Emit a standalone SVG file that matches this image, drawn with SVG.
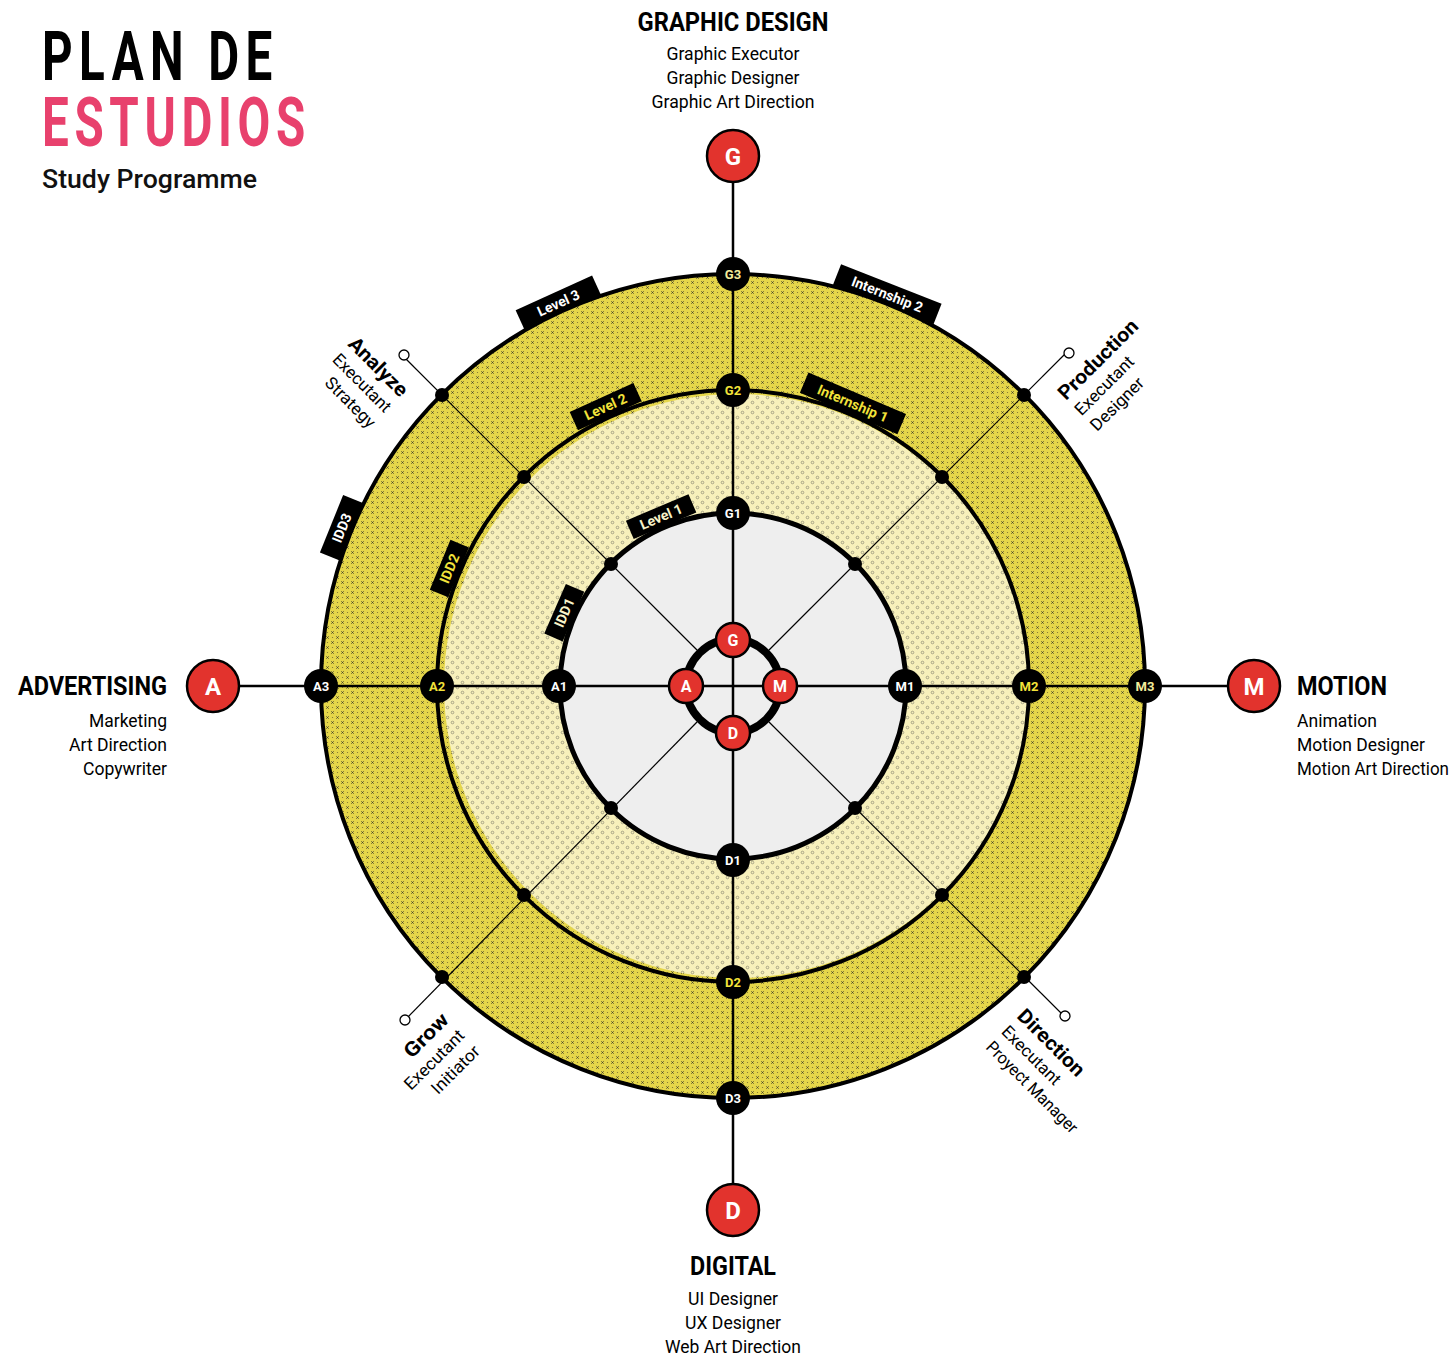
<svg xmlns="http://www.w3.org/2000/svg" width="1455" height="1358" viewBox="0 0 1455 1358">
<defs>
<pattern id="px" width="10" height="10" patternUnits="userSpaceOnUse">
<rect width="10" height="10" fill="#e5d64a"/>
<path d="M1.3 1.3L3.7 3.7M3.7 1.3L1.3 3.7M6.3 6.3L8.7 8.7M8.7 6.3L6.3 8.7" stroke="#3a3a2a" stroke-width="0.8"/>
<circle cx="7.5" cy="2.5" r="0.6" fill="#7a7030"/>
<circle cx="2.5" cy="7.5" r="0.6" fill="#7a7030"/>
</pattern>
<pattern id="po" width="10" height="10" patternUnits="userSpaceOnUse">
<rect width="10" height="10" fill="#f7f0bb"/>
<circle cx="2.5" cy="2.5" r="1.3" fill="none" stroke="#8a8670" stroke-width="0.7"/>
<circle cx="7.5" cy="7.5" r="1.3" fill="none" stroke="#8a8670" stroke-width="0.7"/>
</pattern>
<style>
.t{font-family:Roboto,"Liberation Sans",sans-serif;}
.b{font-family:Roboto,"Liberation Sans",sans-serif;font-weight:bold;}
.ax{stroke:#000;stroke-width:2.5;fill:none}
.dg{stroke:#000;stroke-width:1.2;fill:none}
.nd{fill:#000}
.nl{font-family:Roboto,"Liberation Sans",sans-serif;font-weight:bold;font-size:13px;text-anchor:middle}
.red{fill:#e2332d;stroke:#000;stroke-width:2.5}
.tab{fill:#000}
.tl{font-family:Roboto,"Liberation Sans",sans-serif;font-weight:bold;font-size:14px;text-anchor:middle}
.sub{font-family:Roboto,"Liberation Sans",sans-serif;font-size:19px}
.hd{font-family:Roboto,"Liberation Sans",sans-serif;font-weight:bold;font-size:25px}
.dl{font-family:Roboto,"Liberation Sans",sans-serif;font-size:17px}
.dh{font-family:Roboto,"Liberation Sans",sans-serif;font-weight:bold;font-size:20px}
</style>
</defs>
<rect width="1455" height="1358" fill="#fff"/>

<g id="title">
<text class="t" transform="translate(42,80) scale(0.7,1)" x="0" y="0" font-size="68" font-weight="bold" textLength="329" lengthAdjust="spacing" fill="#000">PLAN DE</text>
<text class="t" transform="translate(42,146) scale(0.7,1)" x="0" y="0" font-size="68" font-weight="bold" textLength="376" lengthAdjust="spacing" fill="#e8416d">ESTUDIOS</text>
<text class="t" x="42" y="188" font-size="25" font-weight="500" textLength="215" lengthAdjust="spacingAndGlyphs" fill="#111">Study Programme</text>
</g>

<g id="tabs-outer">
<g transform="translate(733,686) rotate(-24.5) translate(0,-421)"><rect class="tab" x="-42" y="-11" width="84" height="22"/></g>
<g transform="translate(733,686) rotate(21.5) translate(0,-421)"><rect class="tab" x="-54" y="-11" width="108" height="22"/></g>
<g transform="translate(733,686) rotate(-68) translate(0,-422)"><rect class="tab" x="-31" y="-11" width="62" height="22"/></g>
</g>
<circle id="ring-outer" cx="733" cy="686" r="412" fill="url(#px)"/>
<g id="tabs-middle">
<g transform="translate(733,686) rotate(-24.5) translate(0,-307)"><rect class="tab" x="-35" y="-10" width="70" height="20"/></g>
<g transform="translate(733,686) rotate(23) translate(0,-307)"><rect class="tab" x="-53" y="-11" width="106" height="22"/></g>
<g transform="translate(733,686) rotate(-67.5) translate(0,-307)"><rect class="tab" x="-27" y="-10" width="54" height="20"/></g>
</g>
<circle id="ring-middle" cx="736" cy="686" r="292" fill="url(#po)"/>
<g id="tabs-inner">
<g transform="translate(733,686) rotate(-23) translate(0,-184)"><rect class="tab" x="-34" y="-10" width="68" height="20"/></g>
<g transform="translate(733,686) rotate(-66.5) translate(0,-184)"><rect class="tab" x="-27" y="-10" width="54" height="20"/></g>
</g>
<circle id="ring-inner" cx="733" cy="686" r="173" fill="#eeeeee"/>

<g id="connectors">
<line class="ax" x1="733" y1="156" x2="733" y2="1210"/>
<line class="ax" x1="213" y1="686" x2="1254" y2="686"/>
<line class="dg" x1="697" y1="650" x2="404" y2="357"/>
<line class="dg" x1="769" y1="650" x2="1065" y2="354"/>
<line class="dg" x1="697" y1="722" x2="405" y2="1020"/>
<line class="dg" x1="769" y1="722" x2="1064" y2="1016"/>
<circle cx="733" cy="686" r="412" fill="none" stroke="#000" stroke-width="4"/>
<circle cx="733" cy="686" r="296" fill="none" stroke="#000" stroke-width="4"/>
<circle cx="733" cy="686" r="173" fill="none" stroke="#000" stroke-width="5"/>
<circle cx="733" cy="686" r="47" fill="none" stroke="#000" stroke-width="8"/>
<circle cx="404" cy="355" r="5" fill="#fff" stroke="#000" stroke-width="1.3"/>
<circle cx="1069" cy="353" r="5" fill="#fff" stroke="#000" stroke-width="1.3"/>
<circle cx="405" cy="1020" r="5" fill="#fff" stroke="#000" stroke-width="1.3"/>
<circle cx="1065" cy="1016" r="5" fill="#fff" stroke="#000" stroke-width="1.3"/>
</g>

<g id="tab-labels">
<text class="tl" fill="#fff" transform="translate(733,686) rotate(-24.5) translate(0,-421)" y="5">Level 3</text>
<text class="tl" fill="#fff" transform="translate(733,686) rotate(21.5) translate(0,-421)" y="5">Internship 2</text>
<text class="tl" fill="#fff" transform="translate(733,686) rotate(-68) translate(0,-422)" y="5">IDD3</text>
<text class="tl" fill="#f2e23a" transform="translate(733,686) rotate(-24.5) translate(0,-307)" y="5">Level 2</text>
<text class="tl" fill="#f2e23a" transform="translate(733,686) rotate(23) translate(0,-307)" y="5" font-size="15">Internship 1</text>
<text class="tl" fill="#f2e23a" transform="translate(733,686) rotate(-67.5) translate(0,-307)" y="5">IDD2</text>
<text class="tl" fill="#f7f2c8" transform="translate(733,686) rotate(-23) translate(0,-184)" y="5">Level 1</text>
<text class="tl" fill="#f7f2c8" transform="translate(733,686) rotate(-66.5) translate(0,-184)" y="5">IDD1</text>
</g>

<g id="diag-dots">
<circle class="nd" cx="611" cy="564" r="7"/>
<circle class="nd" cx="524" cy="477" r="7"/>
<circle class="nd" cx="442" cy="395" r="7"/>
<circle class="nd" cx="855" cy="564" r="7"/>
<circle class="nd" cx="942" cy="477" r="7"/>
<circle class="nd" cx="1024" cy="395" r="7"/>
<circle class="nd" cx="611" cy="808" r="7"/>
<circle class="nd" cx="524" cy="895" r="7"/>
<circle class="nd" cx="442" cy="977" r="7"/>
<circle class="nd" cx="855" cy="808" r="7"/>
<circle class="nd" cx="942" cy="895" r="7"/>
<circle class="nd" cx="1024" cy="977" r="7"/>
</g>

<g id="node-G3"><circle class="nd" cx="733" cy="274" r="17"/><text class="nl" x="733" y="279" fill="#f3ec9a">G3</text></g>
<g id="node-G2"><circle class="nd" cx="733" cy="390" r="17"/><text class="nl" x="733" y="395" fill="#f2e23a">G2</text></g>
<g id="node-G1"><circle class="nd" cx="733" cy="513" r="17"/><text class="nl" x="733" y="518" fill="#fff">G1</text></g>
<g id="node-D1"><circle class="nd" cx="733" cy="860" r="17"/><text class="nl" x="733" y="865" fill="#fff">D1</text></g>
<g id="node-D2"><circle class="nd" cx="733" cy="982" r="17"/><text class="nl" x="733" y="987" fill="#f2e23a">D2</text></g>
<g id="node-D3"><circle class="nd" cx="733" cy="1098" r="17"/><text class="nl" x="733" y="1103" fill="#fff">D3</text></g>
<g id="node-A3"><circle class="nd" cx="321" cy="686" r="17"/><text class="nl" x="321" y="691" fill="#fff">A3</text></g>
<g id="node-A2"><circle class="nd" cx="437" cy="686" r="17"/><text class="nl" x="437" y="691" fill="#f2e23a">A2</text></g>
<g id="node-A1"><circle class="nd" cx="559" cy="686" r="17"/><text class="nl" x="559" y="691" fill="#fff">A1</text></g>
<g id="node-M1"><circle class="nd" cx="905" cy="686" r="17"/><text class="nl" x="905" y="691" fill="#fff">M1</text></g>
<g id="node-M2"><circle class="nd" cx="1029" cy="686" r="17"/><text class="nl" x="1029" y="691" fill="#f2e23a">M2</text></g>
<g id="node-M3"><circle class="nd" cx="1145" cy="686" r="17"/><text class="nl" x="1145" y="691" fill="#f3ec9a">M3</text></g>

<g id="core-G"><circle class="red" cx="733" cy="640" r="17"/><text class="b" x="733" y="646" font-size="16" fill="#fff" text-anchor="middle">G</text></g>
<g id="core-A"><circle class="red" cx="686" cy="686" r="17"/><text class="b" x="686" y="692" font-size="16" fill="#fff" text-anchor="middle">A</text></g>
<g id="core-M"><circle class="red" cx="780" cy="686" r="17"/><text class="b" x="780" y="692" font-size="16" fill="#fff" text-anchor="middle">M</text></g>
<g id="core-D"><circle class="red" cx="733" cy="733" r="17"/><text class="b" x="733" y="739" font-size="16" fill="#fff" text-anchor="middle">D</text></g>

<g id="hub-G"><circle class="red" cx="733" cy="156" r="26"/><text class="b" x="733" y="165" font-size="24" fill="#fff" text-anchor="middle">G</text></g>
<g id="hub-A"><circle class="red" cx="213" cy="686" r="26"/><text class="b" x="213" y="695" font-size="24" fill="#fff" text-anchor="middle">A</text></g>
<g id="hub-M"><circle class="red" cx="1254" cy="686" r="26"/><text class="b" x="1254" y="695" font-size="24" fill="#fff" text-anchor="middle">M</text></g>
<g id="hub-D"><circle class="red" cx="733" cy="1210" r="26"/><text class="b" x="733" y="1219" font-size="24" fill="#fff" text-anchor="middle">D</text></g>

<g id="label-graphic" text-anchor="middle" fill="#000">
<text class="hd" x="733" y="31" textLength="191" lengthAdjust="spacingAndGlyphs">GRAPHIC DESIGN</text>
<text class="sub" x="733" y="60" textLength="133" lengthAdjust="spacingAndGlyphs">Graphic Executor</text>
<text class="sub" x="733" y="84" textLength="133" lengthAdjust="spacingAndGlyphs">Graphic Designer</text>
<text class="sub" x="733" y="108" textLength="163" lengthAdjust="spacingAndGlyphs">Graphic Art Direction</text>
</g>
<g id="label-advertising" text-anchor="end" fill="#000">
<text class="hd" x="167" y="695" textLength="149" lengthAdjust="spacingAndGlyphs">ADVERTISING</text>
<text class="sub" x="167" y="727" textLength="78" lengthAdjust="spacingAndGlyphs">Marketing</text>
<text class="sub" x="167" y="751" textLength="98" lengthAdjust="spacingAndGlyphs">Art Direction</text>
<text class="sub" x="167" y="775" textLength="84" lengthAdjust="spacingAndGlyphs">Copywriter</text>
</g>
<g id="label-motion" fill="#000">
<text class="hd" x="1297" y="695" textLength="90" lengthAdjust="spacingAndGlyphs">MOTION</text>
<text class="sub" x="1297" y="727" textLength="80" lengthAdjust="spacingAndGlyphs">Animation</text>
<text class="sub" x="1297" y="751" textLength="128" lengthAdjust="spacingAndGlyphs">Motion Designer</text>
<text class="sub" x="1297" y="775" textLength="152" lengthAdjust="spacingAndGlyphs">Motion Art Direction</text>
</g>
<g id="label-digital" text-anchor="middle" fill="#000">
<text class="hd" x="733" y="1275" textLength="86" lengthAdjust="spacingAndGlyphs">DIGITAL</text>
<text class="sub" x="733" y="1305" textLength="90" lengthAdjust="spacingAndGlyphs">UI Designer</text>
<text class="sub" x="733" y="1329" textLength="96" lengthAdjust="spacingAndGlyphs">UX Designer</text>
<text class="sub" x="733" y="1353" textLength="136" lengthAdjust="spacingAndGlyphs">Web Art Direction</text>
</g>

<g id="label-analyze" transform="translate(400,398) rotate(45)" text-anchor="end" fill="#000">
<text class="dh" x="0" y="0" textLength="75" lengthAdjust="spacingAndGlyphs">Analyze</text>
<text class="dl" x="0" y="22" textLength="75" lengthAdjust="spacingAndGlyphs">Executant</text>
<text class="dl" x="0" y="44" textLength="64" lengthAdjust="spacingAndGlyphs">Strategy</text>
</g>
<g id="label-production" transform="translate(1066,401) rotate(-45)" fill="#000">
<text class="dh" x="0" y="0" textLength="104" lengthAdjust="spacingAndGlyphs">Production</text>
<text class="dl" x="0" y="22" textLength="76" lengthAdjust="spacingAndGlyphs">Executant</text>
<text class="dl" x="0" y="44" textLength="68" lengthAdjust="spacingAndGlyphs">Designer</text>
</g>
<g id="label-grow" transform="translate(450,1021) rotate(-45)" text-anchor="end" fill="#000">
<text class="dh" x="0" y="0" textLength="54" lengthAdjust="spacingAndGlyphs">Grow</text>
<text class="dl" x="0" y="22" textLength="77" lengthAdjust="spacingAndGlyphs">Executant</text>
<text class="dl" x="0" y="44" textLength="61" lengthAdjust="spacingAndGlyphs">Initiator</text>
</g>
<g id="label-direction" transform="translate(1016,1017) rotate(45)" fill="#000">
<text class="dh" x="0" y="0" textLength="86" lengthAdjust="spacingAndGlyphs">Direction</text>
<text class="dl" x="0" y="22" textLength="76" lengthAdjust="spacingAndGlyphs">Executant</text>
<text class="dl" x="0" y="44" textLength="122" lengthAdjust="spacingAndGlyphs">Proyect Manager</text>
</g>
</svg>
